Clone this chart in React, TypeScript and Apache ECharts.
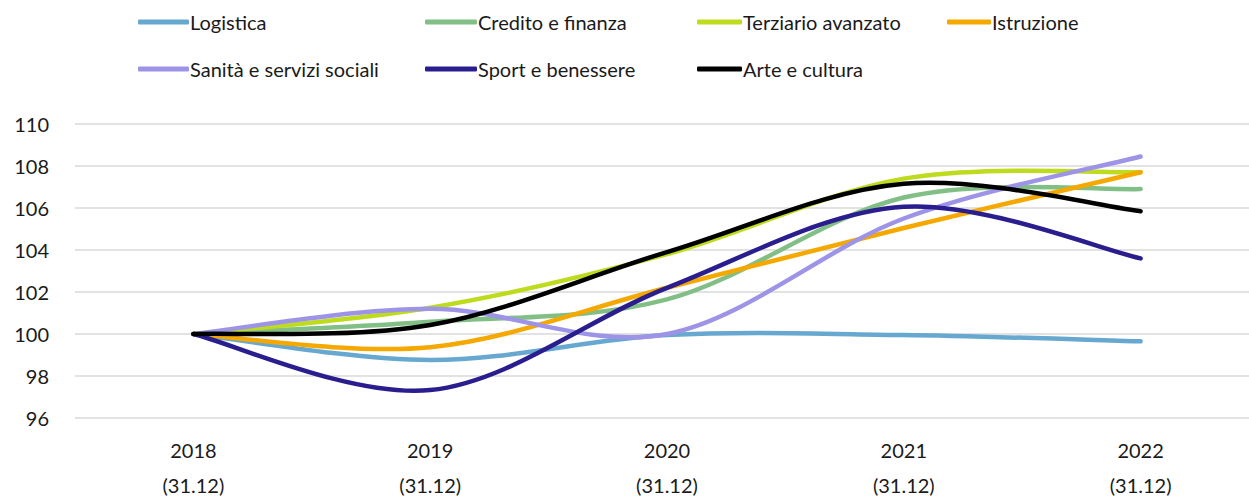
import React, { useEffect, useRef } from "react";
import * as echarts from "echarts";

const categories = ["2018\n(31.12)", "2019\n(31.12)", "2020\n(31.12)", "2021\n(31.12)", "2022\n(31.12)"];

const logistica = [100, 98.76, 99.95, 99.95, 99.65];
const credito = [100, 100.58, 101.65, 106.5, 106.9];
const terziario = [100, 101.25, 103.8, 107.4, 107.7];
const istruzione = [100, 99.37, 102.2, 105.05, 107.7];
const sanita = [100, 101.2, 100.0, 105.5, 108.45];
const sport = [100, 97.33, 102.2, 106.06, 103.6];
const arte = [100, 100.43, 103.9, 107.15, 105.85];

const seriesNames = [
  "Logistica",
  "Credito e finanza",
  "Terziario avanzato",
  "Istruzione",
  "Sanità e servizi sociali",
  "Sport e benessere",
  "Arte e cultura",
];
const seriesData = [logistica, credito, terziario, istruzione, sanita, sport, arte];
const colors = ["#66A8CF", "#82BF86", "#BEDB1E", "#F5A800", "#9D94E8", "#2A1E8F", "#000000"];

const legendPos = [
  [138, 12],
  [425, 12],
  [697, 12],
  [947, 12],
  [138, 59],
  [425, 59],
  [697, 59],
];
const legendIconW = [51, 52, 45, 44, 51, 52, 45];

const FONT = "Lato";

function makeRender(values: number[], color: string) {
  return (params: any, api: any) => {
    if (params.dataIndex !== 0) return null;
    const p = values.map((v, k) => api.coord([k, v]));
    const n = p.length;
    let d = `M${p[0][0]},${p[0][1]}`;
    for (let k = 0; k < n - 1; k++) {
      const p0 = p[Math.max(0, k - 1)];
      const p1 = p[k];
      const p2 = p[k + 1];
      const p3 = p[Math.min(n - 1, k + 2)];
      const c1x = p1[0] + (p2[0] - p0[0]) / 6;
      const c1y = p1[1] + (p2[1] - p0[1]) / 6;
      const c2x = p2[0] - (p3[0] - p1[0]) / 6;
      const c2y = p2[1] - (p3[1] - p1[1]) / 6;
      d += ` C${c1x},${c1y} ${c2x},${c2y} ${p2[0]},${p2[1]}`;
    }
    return {
      type: "path",
      shape: { pathData: d },
      style: { fill: "none", stroke: color, lineWidth: 4.5, lineCap: "round", lineJoin: "round" },
    };
  };
}

export default function App() {
  const ref = useRef<HTMLDivElement>(null);
  useEffect(() => {
    if (!ref.current) return;
    const chart = echarts.init(ref.current, null, { renderer: "svg" });
    chart.setOption({
      animation: false,
      color: colors,
      textStyle: { fontFamily: FONT },
      legend: seriesNames.map((n, i) => ({
        data: [n],
        left: legendPos[i][0],
        top: legendPos[i][1],
        padding: 0,
        icon: "roundRect",
        itemWidth: legendIconW[i],
        itemHeight: 5,
        textStyle: { fontFamily: FONT, fontSize: 20, color: "#1a1a1a", padding: [0, 0, 0, -4] },
      })),
      grid: { left: 75, right: -10, top: 124, bottom: 80, outerBoundsMode: "none", containLabel: false },
      xAxis: {
        type: "category",
        data: categories,
        boundaryGap: true,
        axisLine: { show: false },
        axisTick: { show: false },
        axisLabel: { fontFamily: FONT, fontSize: 20, color: "#1a1a1a", lineHeight: 35, margin: 14 },
      },
      yAxis: {
        type: "value",
        min: 96,
        max: 110,
        interval: 2,
        axisLine: { show: false },
        axisTick: { show: false },
        axisLabel: { fontFamily: FONT, fontSize: 20, color: "#1a1a1a", margin: 26 },
        splitLine: { lineStyle: { color: "#d9d9d9", width: 1.5 } },
      },
      series: seriesNames.map((n, i) => ({
        name: n,
        type: "custom",
        data: seriesData[i].map((v, k) => [k, v]),
        encode: { x: 0, y: 1 },
        renderItem: makeRender(seriesData[i], colors[i]),
        itemStyle: { color: colors[i] },
      })),
    });
    return () => chart.dispose();
  }, []);
  return (
    <div
      ref={ref}
      style={{ position: "fixed", left: 0, top: 0, width: 1249, height: 498, background: "#fff" }}
    />
  );
}
